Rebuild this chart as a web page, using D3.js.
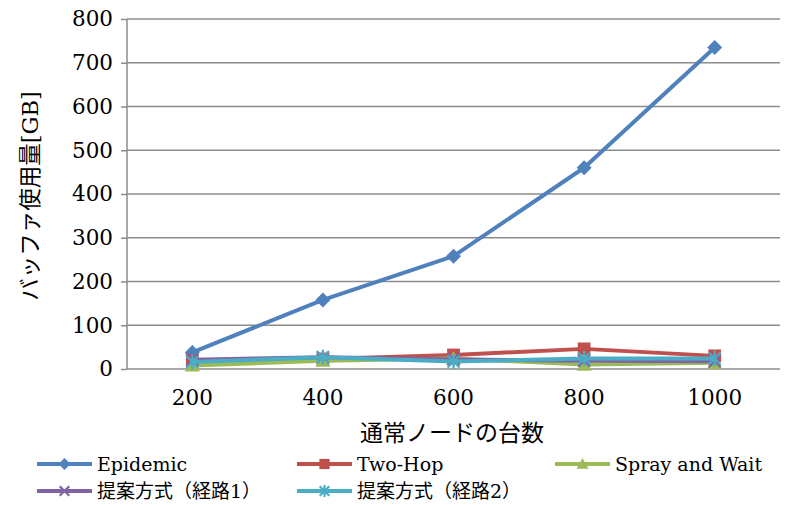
<!DOCTYPE html>
<html>
<head>
<meta charset="utf-8">
<script src="https://cdn.jsdelivr.net/npm/d3@7"></script>
<style>
  body { margin: 0; background: #fff; }
  svg { display: block; }
  text { font-family: "DejaVu Serif", "Liberation Serif", "Noto Sans CJK JP", serif; fill: #000; }
</style>
</head>
<body>
<svg id="chart" width="785" height="505"></svg>
<script>
// Node counts on the x axis
const categories = ["200", "400", "600", "800", "1000"];
// Buffer usage [GB] for each routing scheme
const epidemic = [38, 158, 258, 460, 735];
const twoHop = [19, 23, 32, 46, 30];
const sprayWait = [8, 19, 24, 10, 14];
const proposed1 = [21, 27, 22, 19, 18];
const proposed2 = [16, 27, 17, 24, 24];
const seriesNames = ["Epidemic", "Two-Hop", "Spray and Wait", "提案方式（経路1）", "提案方式（経路2）"];
const yTicks = [0, 100, 200, 300, 400, 500, 600, 700, 800];
const xTitle = "通常ノードの台数";
const yTitle = "バッファ使用量[GB]";

const series = [
  { name: seriesNames[0], values: epidemic, color: "#4F81BD", marker: "diamond" },
  { name: seriesNames[1], values: twoHop, color: "#C0504D", marker: "square" },
  { name: seriesNames[2], values: sprayWait, color: "#9BBB59", marker: "triangle" },
  { name: seriesNames[3], values: proposed1, color: "#8064A2", marker: "x" },
  { name: seriesNames[4], values: proposed2, color: "#4BACC6", marker: "star" }
];

const svg = d3.select("#chart");
const plotL = 127, plotR = 780, plotT = 19, plotB = 369;

const x = d3.scaleBand().domain(categories).range([plotL, plotR]);
const y = d3.scaleLinear().domain([0, 800]).range([plotB, plotT]);

// horizontal gridlines
svg.append("g").selectAll("line").data(yTicks.slice(1)).join("line")
  .attr("x1", plotL).attr("x2", plotR)
  .attr("y1", d => y(d)).attr("y2", d => y(d))
  .attr("stroke", "#8c8c8c").attr("stroke-width", 1.5);

// y axis
const yAxis = svg.append("g").attr("transform", `translate(${plotL},0)`)
  .call(d3.axisLeft(y).tickValues(yTicks).tickSize(6).tickPadding(8));
yAxis.select(".domain").attr("stroke", "#8c8c8c").attr("stroke-width", 1.5).attr("d", `M0,${plotT}V${plotB}`);
yAxis.selectAll(".tick line").attr("stroke", "#8c8c8c").attr("stroke-width", 1.5);
yAxis.selectAll(".tick text").style("font-size", "21.5px").attr("fill", "#000");

// x axis
const xAxis = svg.append("g").attr("transform", `translate(0,${plotB})`)
  .call(d3.axisBottom(x).tickSize(0).tickPadding(21));
xAxis.select(".domain").attr("stroke", "#8c8c8c").attr("stroke-width", 1.5).attr("d", `M${plotL},0H${plotR}`);
xAxis.selectAll(".tick text").style("font-size", "21.5px").attr("fill", "#000");

// axis titles
svg.append("text").attr("x", 452).attr("y", 441)
  .attr("text-anchor", "middle").style("font-size", "23px").text(xTitle);
svg.append("text").attr("transform", `translate(38,${(plotT + plotB) / 2 + 2}) rotate(-90)`)
  .attr("text-anchor", "middle").style("font-size", "22.5px").text(yTitle);

// marker drawing
function drawMarker(g, type, color, cx, cy, s) {
  if (type === "diamond") {
    g.append("path").attr("d", `M${cx},${cy - s}L${cx + s},${cy}L${cx},${cy + s}L${cx - s},${cy}Z`).attr("fill", color);
  } else if (type === "square") {
    g.append("rect").attr("x", cx - s * 0.85).attr("y", cy - s * 0.85).attr("width", s * 1.7).attr("height", s * 1.7).attr("fill", color);
  } else if (type === "triangle") {
    g.append("path").attr("d", `M${cx},${cy - s}L${cx + s},${cy + s * 0.8}L${cx - s},${cy + s * 0.8}Z`).attr("fill", color);
  } else if (type === "x") {
    const d = s * 0.8;
    g.append("path").attr("d", `M${cx - d},${cy - d}L${cx + d},${cy + d}M${cx - d},${cy + d}L${cx + d},${cy - d}`)
      .attr("stroke", color).attr("stroke-width", 2.2).attr("fill", "none");
  } else if (type === "star") {
    const d = s * 0.8;
    g.append("path").attr("d", `M${cx - d},${cy - d}L${cx + d},${cy + d}M${cx - d},${cy + d}L${cx + d},${cy - d}M${cx},${cy - s}L${cx},${cy + s}`)
      .attr("stroke", color).attr("stroke-width", 2.2).attr("fill", "none");
  }
}

const line = d3.line().x((d, i) => x(categories[i]) + x.bandwidth() / 2).y(d => y(d));

series.forEach(s => {
  const g = svg.append("g");
  g.append("path").datum(s.values).attr("d", line)
    .attr("fill", "none").attr("stroke", s.color).attr("stroke-width", 4).attr("stroke-linejoin", "round");
  s.values.forEach((v, i) => {
    drawMarker(g, s.marker, s.color, x(categories[i]) + x.bandwidth() / 2, y(v), 7.5);
  });
});

// legend
const legendPos = [[37, 464], [297, 464], [555, 464], [37, 491], [297, 491]];
series.forEach((s, i) => {
  const [lx, ly] = legendPos[i];
  const g = svg.append("g");
  g.append("line").attr("x1", lx).attr("x2", lx + 55).attr("y1", ly).attr("y2", ly)
    .attr("stroke", s.color).attr("stroke-width", 4);
  drawMarker(g, s.marker, s.color, lx + 27.5, ly, 6);
  g.append("text").attr("x", lx + 60).attr("y", ly + 7).style("font-size", "19px").text(s.name);
});
</script>
</body>
</html>
